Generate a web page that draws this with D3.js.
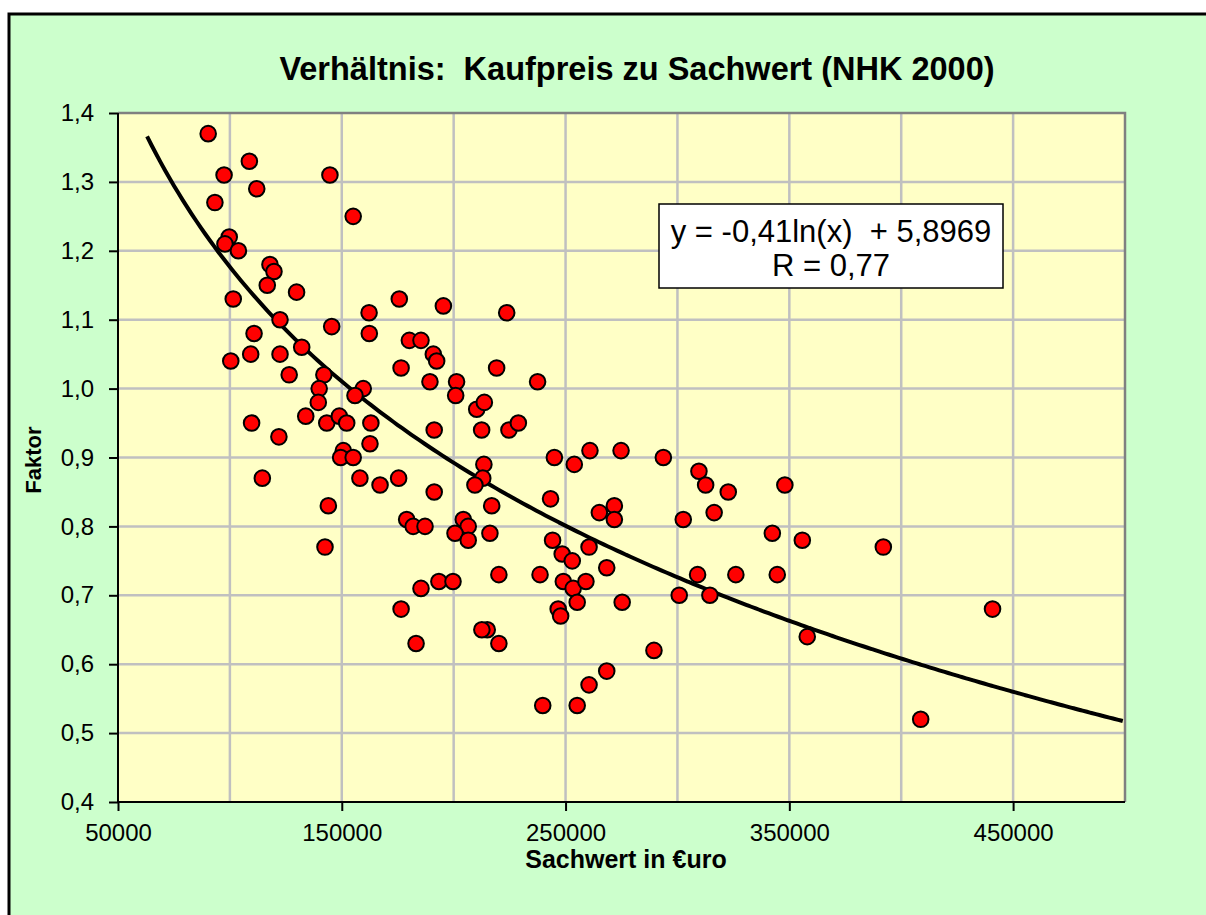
<!DOCTYPE html>
<html>
<head>
<meta charset="utf-8">
<script src="https://cdn.jsdelivr.net/npm/d3@7"></script>
<style>
  body { margin: 0; background: #fff; overflow: hidden; }
  svg { display: block; }
  text { font-family: Arial, "Liberation Sans", sans-serif; }
</style>
</head>
<body>
<div id="chart"></div>
<script>
// Sachwert (x) und Faktor (y) je Objekt
const sachwert = [
  90300, 108700, 97400, 112000, 93300, 144700, 155100, 99700, 97800, 103800,
  117900, 119700, 116700, 129800, 101500, 122400, 162200, 145500, 175700, 195400,
  110800, 162300, 180200, 185400, 109300, 122400, 132100, 190900, 192400, 100400,
  126500, 142000, 139900, 159600, 155900, 139500, 176500, 189400, 133900, 109700,
  143300, 148900, 152200, 163000, 121900, 162600, 191300, 150700, 149500, 155100,
  114500, 158100, 167100, 175400, 191300, 144000, 179000, 181900, 187200, 142500,
  193400, 199700, 176500, 185400, 183200, 223700, 219200, 201300, 200900, 237500,
  210300, 213700, 212500, 224700, 228900, 245000, 253900, 260900, 274800, 293700,
  309600, 312600, 322700, 213500, 213000, 209500, 217000, 243300, 265100, 271800,
  271800, 302600, 316400, 204300, 206500, 200600, 206500, 216200, 244200, 248500,
  253000, 260500, 268400, 220200, 238600, 249000, 253400, 259100, 255200, 246700,
  247800, 275300, 309000, 326100, 300800, 314500, 215000, 212600, 220200, 289500,
  268400, 260500, 239800, 255200, 348000, 342400, 355800, 392000, 344600, 440800,
  358000, 408700
]
const faktor = [
  1.37, 1.33, 1.31, 1.29, 1.27, 1.31, 1.25, 1.22, 1.21, 1.20,
  1.18, 1.17, 1.15, 1.14, 1.13, 1.10, 1.11, 1.09, 1.13, 1.12,
  1.08, 1.08, 1.07, 1.07, 1.05, 1.05, 1.06, 1.05, 1.04, 1.04,
  1.02, 1.02, 1.00, 1.00, 0.99, 0.98, 1.03, 1.01, 0.96, 0.95,
  0.95, 0.96, 0.95, 0.95, 0.93, 0.92, 0.94, 0.91, 0.90, 0.90,
  0.87, 0.87, 0.86, 0.87, 0.85, 0.83, 0.81, 0.80, 0.80, 0.77,
  0.72, 0.72, 0.68, 0.71, 0.63, 1.11, 1.03, 1.01, 0.99, 1.01,
  0.97, 0.98, 0.94, 0.94, 0.95, 0.90, 0.89, 0.91, 0.91, 0.90,
  0.88, 0.86, 0.85, 0.89, 0.87, 0.86, 0.83, 0.84, 0.82, 0.83,
  0.81, 0.81, 0.82, 0.81, 0.80, 0.79, 0.78, 0.79, 0.78, 0.76,
  0.75, 0.77, 0.74, 0.73, 0.73, 0.72, 0.71, 0.72, 0.69, 0.68,
  0.67, 0.69, 0.73, 0.73, 0.70, 0.70, 0.65, 0.65, 0.63, 0.62,
  0.59, 0.57, 0.54, 0.54, 0.86, 0.79, 0.78, 0.77, 0.73, 0.68,
  0.64, 0.52
]
const xTicks = [50000, 150000, 250000, 350000, 450000]
const xGrid = [100000, 150000, 200000, 250000, 300000, 350000, 400000, 450000]
const yTicks = [0.4, 0.5, 0.6, 0.7, 0.8, 0.9, 1.0, 1.1, 1.2, 1.3, 1.4]
// logarithmische Trendlinie: y = a*ln(x) + b
const trendA = -0.41, trendB = 5.8969
const trendRange = [63000, 500000]

const width = 1206, height = 915
const plot = { left: 118, right: 1125, top: 113, bottom: 802 }

const svg = d3.select('#chart')
  .append('svg')
  .attr('width', width)
  .attr('height', height)

// Diagrammfläche, Rahmen nur oben und links sichtbar
svg.append('rect')
  .attr('x', 9).attr('y', 14)
  .attr('width', width - 9).attr('height', height - 14)
  .attr('fill', '#ccffcc')
svg.append('path')
  .attr('d', `M9,${height}V14H${width}`)
  .attr('fill', 'none')
  .attr('stroke', '#000')
  .attr('stroke-width', 3)

const xScale = d3.scaleLinear()
  .domain([50000, 500000])
  .range([plot.left, plot.right])

const yScale = d3.scaleLinear()
  .domain([0.4, 1.4])
  .range([plot.bottom, plot.top])

svg.append('rect')
  .attr('x', plot.left).attr('y', plot.top)
  .attr('width', plot.right - plot.left)
  .attr('height', plot.bottom - plot.top)
  .attr('fill', '#ffffc6')

// Gitternetz
svg.append('g')
  .selectAll('line')
  .data(xGrid)
  .join('line')
  .attr('x1', d => xScale(d)).attr('x2', d => xScale(d))
  .attr('y1', plot.top).attr('y2', plot.bottom)
  .attr('stroke', '#c0c0c0').attr('stroke-width', 2.5)

svg.append('g')
  .selectAll('line')
  .data(yTicks.slice(1, -1))
  .join('line')
  .attr('x1', plot.left).attr('x2', plot.right)
  .attr('y1', d => yScale(d)).attr('y2', d => yScale(d))
  .attr('stroke', '#c0c0c0').attr('stroke-width', 2.5)

// Rahmen oben und rechts
svg.append('path')
  .attr('d', `M${plot.left},${plot.top}H${plot.right}V${plot.bottom}`)
  .attr('fill', 'none')
  .attr('stroke', '#808080')
  .attr('stroke-width', 2.5)

// Achsen
const fmtY = d => d3.format('.1f')(d).replace('.', ',')

const xAxis = svg.append('g')
  .attr('transform', `translate(0,${plot.bottom})`)
  .call(d3.axisBottom(xScale).tickValues(xTicks).tickSize(9).tickPadding(13).tickFormat(d => d))

const yAxis = svg.append('g')
  .attr('transform', `translate(${plot.left},0)`)
  .call(d3.axisLeft(yScale).tickValues(yTicks).tickSize(9).tickPadding(15).tickFormat(fmtY))

for (const ax of [xAxis, yAxis]) {
  ax.select('.domain').attr('stroke', '#000').attr('stroke-width', 2)
  ax.selectAll('.tick line').attr('stroke', '#000').attr('stroke-width', 2)
  ax.selectAll('.tick text')
    .attr('fill', '#000')
    .style('font-size', '24px')
    .style('font-family', 'Arial, "Liberation Sans", sans-serif')
}
xAxis.select('.domain').attr('d', `M${plot.left},0H${plot.right}`)
yAxis.select('.domain').attr('d', `M0,${plot.bottom}V${plot.top}`)

// Trendlinie
const trendX = d3.range(trendRange[0], trendRange[1] + 1, 2000)
const line = d3.line()
  .x(d => xScale(d))
  .y(d => yScale(trendA * Math.log(d) + trendB))
  .curve(d3.curveMonotoneX)

svg.append('path')
  .datum(trendX)
  .attr('d', line)
  .attr('fill', 'none')
  .attr('stroke', '#000')
  .attr('stroke-width', 4)

// Punkte
svg.append('g')
  .selectAll('circle')
  .data(sachwert.map((d, i) => [d, faktor[i]]))
  .join('circle')
  .attr('cx', d => xScale(d[0]))
  .attr('cy', d => yScale(d[1]))
  .attr('r', 7.8)
  .attr('fill', '#ff0000')
  .attr('stroke', '#000')
  .attr('stroke-width', 2)

// Formelbox
const box = svg.append('g')
box.append('rect')
  .attr('x', 659).attr('y', 204)
  .attr('width', 344).attr('height', 84)
  .attr('fill', '#fff')
  .attr('stroke', '#000')
  .attr('stroke-width', 1.5)
box.append('text')
  .attr('x', 831).attr('y', 242)
  .attr('text-anchor', 'middle')
  .style('font-size', '31px')
  .style('white-space', 'pre')
  .text('y = -0,41ln(x)  + 5,8969')
box.append('text')
  .attr('x', 831).attr('y', 276)
  .attr('text-anchor', 'middle')
  .style('font-size', '31px')
  .text('R = 0,77')

// Titel und Achsentitel
svg.append('text')
  .attr('x', 637).attr('y', 80)
  .attr('text-anchor', 'middle')
  .style('font-size', '32.5px')
  .style('font-weight', 'bold')
  .style('white-space', 'pre')
  .text('Verhältnis:  Kaufpreis zu Sachwert (NHK 2000)')

svg.append('text')
  .attr('x', 626).attr('y', 868)
  .attr('text-anchor', 'middle')
  .style('font-size', '25px')
  .style('font-weight', 'bold')
  .text('Sachwert in €uro')

svg.append('text')
  .attr('transform', 'translate(41,460) rotate(-90)')
  .attr('text-anchor', 'middle')
  .style('font-size', '22px')
  .style('font-weight', 'bold')
  .text('Faktor')
</script>
</body>
</html>
